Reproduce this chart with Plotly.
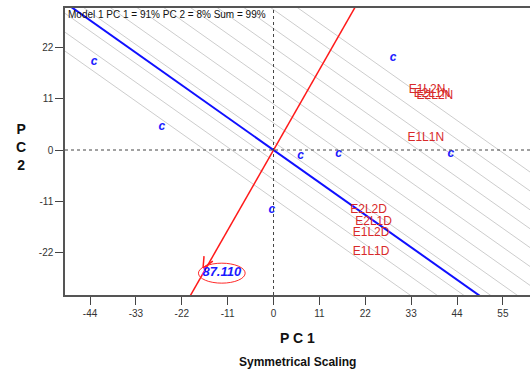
import numpy as np
import plotly.graph_objects as go

# ---- data ----
x_ticks = [-44, -33, -22, -11, 0, 11, 22, 33, 44, 55]
y_ticks = [-22, -11, 0, 11, 22]
x_range = [-50.0, 61.5]
y_range = [-31.08, 30.44]

# sample scores ("c")
c_x = [-43.0, -26.8, 28.7, 6.5, 15.6, 42.5, -0.4]
c_y = [18.8, 5.0, 19.8, -1.2, -0.9, -0.9, -12.8]

# variable labels
var_names = ["E1L2N", "E2L1N", "E2L2N", "E1L1N", "E2L2D", "E2L1D", "E1L2D", "E1L1D"]
var_x = [36.8, 38.0, 38.7, 36.5, 22.8, 24.0, 23.4, 23.4]
var_y = [12.9, 12.1, 11.6, 2.6, -12.9, -15.4, -17.8, -21.9]

# axes of the biplot (slopes through the origin)
blue_slope = -0.632
red_slope = 1.565
# parallel contour lines (intercepts)
contour_b0 = -10.4
contour_step = 4.05
contour_n = 12

# highlighted point
hl_label = "87.110"
hl_x, hl_y = -12.4, -26.4
hl_rx, hl_ry = 5.6, 2.14
arrow_tip = (-16.9, -25.3)

model_text = "Model 1 PC 1 = 91% PC 2 = 8% Sum = 99%"

# ---- figure ----
W, H = 530, 374
ml, mr, mt, mb = 65, 0, 8, 79
pw, ph = W - ml - mr, H - mt - mb
sx = pw / (x_range[1] - x_range[0])
sy = ph / (y_range[1] - y_range[0])

fig = go.Figure()
xs_full = np.array([x_range[0] - 20, x_range[1] + 20])

# grey contour lines
for k in range(contour_n):
    b = contour_b0 + k * contour_step
    fig.add_trace(go.Scatter(x=xs_full, y=b + blue_slope * xs_full, mode="lines",
                             line=dict(color="#cdcdcd", width=1), hoverinfo="skip",
                             showlegend=False))

# zero reference lines
fig.add_shape(type="line", x0=0, x1=0, y0=y_range[0], y1=y_range[1],
              line=dict(color="#444", width=1, dash="dot"), layer="above")
fig.add_shape(type="line", x0=x_range[0], x1=x_range[1], y0=0, y1=0,
              line=dict(color="#444", width=1, dash="dot"), layer="above")

# blue axis line
fig.add_trace(go.Scatter(x=xs_full, y=blue_slope * xs_full, mode="lines",
                         line=dict(color="#1010ff", width=2), showlegend=False))
# red axis line
ys_full = np.array([y_range[0] - 20, y_range[1] + 20])
fig.add_trace(go.Scatter(x=ys_full / red_slope, y=ys_full, mode="lines",
                         line=dict(color="#ff1a1a", width=1.5), showlegend=False))

# arrow head (open V pointing down-left along the red line)
tx, ty = arrow_tip
dpx = np.array([1.0 * sx, red_slope * sy * -1.0])
dpx = dpx / np.linalg.norm(dpx)
barbs_x, barbs_y = [], []
for ang in (np.radians(25), np.radians(-25)):
    c, s = np.cos(ang), np.sin(ang)
    vx = c * dpx[0] - s * dpx[1]
    vy = s * dpx[0] + c * dpx[1]
    L = 12
    barbs_x += [tx + L * vx / sx, tx, None]
    barbs_y += [ty - L * vy / sy, ty, None]
fig.add_trace(go.Scatter(x=barbs_x, y=barbs_y, mode="lines",
                         line=dict(color="#ff1a1a", width=1.5), showlegend=False))

# ellipse around highlighted point
fig.add_shape(type="circle", x0=hl_x - hl_rx, x1=hl_x + hl_rx,
              y0=hl_y - hl_ry, y1=hl_y + hl_ry,
              line=dict(color="#ff2a2a", width=1))

# sample labels
fig.add_trace(go.Scatter(x=c_x, y=c_y, mode="text", text=["c"] * len(c_x),
                         textfont=dict(family="Arial, Liberation Sans", size=12,
                                       color="#1a1aff", weight="bold", style="italic"),
                         showlegend=False))
# variable labels
fig.add_trace(go.Scatter(x=var_x, y=var_y, mode="text", text=var_names,
                         textfont=dict(family="Arial, Liberation Sans", size=12,
                                       color="#d82a2a"),
                         showlegend=False))
# highlighted label
fig.add_trace(go.Scatter(x=[hl_x], y=[hl_y], mode="text", text=[hl_label],
                         textfont=dict(family="Arial, Liberation Sans", size=13,
                                       color="#1a1aff", weight="bold", style="italic"),
                         showlegend=False))

axis_font = dict(family="Arial, Liberation Sans", size=10, color="#333")
fig.update_layout(
    width=W, height=H,
    margin=dict(l=ml, r=mr, t=mt, b=mb),
    paper_bgcolor="white", plot_bgcolor="white",
    xaxis=dict(range=x_range, tickvals=x_ticks, ticktext=[str(v) for v in x_ticks],
               ticks="outside", ticklen=8, tickwidth=1, tickcolor="#444",
               showline=True, linecolor="#555", linewidth=1.5, mirror=True,
               showgrid=False, zeroline=False, tickfont=axis_font),
    yaxis=dict(range=y_range, tickvals=y_ticks, ticktext=[str(v) for v in y_ticks],
               ticks="outside", ticklen=8, tickwidth=1, tickcolor="#444",
               showline=True, linecolor="#555", linewidth=1.5,
               showgrid=False, zeroline=False, tickfont=axis_font),
    showlegend=False,
)

fig.add_annotation(xref="paper", yref="paper", x=(66 - ml) / pw, y=1 - (14.5 - mt) / ph,
                   xanchor="left", yanchor="middle", showarrow=False, text=model_text,
                   font=dict(family="Arial, Liberation Sans", size=10, color="#111"))
fig.add_annotation(xref="paper", yref="paper", x=0.5, y=-(338 - mt - ph) / ph,
                   xanchor="center", yanchor="middle", showarrow=False, text="P C 1",
                   font=dict(family="Arial, Liberation Sans", size=14, color="#111",
                             weight="bold"))
fig.add_annotation(xref="paper", yref="paper", x=0.5, y=-(362 - mt - ph) / ph,
                   xanchor="center", yanchor="middle", showarrow=False,
                   text="Symmetrical Scaling",
                   font=dict(family="Arial, Liberation Sans", size=12, color="#111",
                             weight="bold"))
fig.add_annotation(xref="paper", yref="paper", x=(21 - ml) / pw, y=1 - (147 - mt) / ph,
                   xanchor="center", yanchor="middle", showarrow=False,
                   text="P<br>C<br>2",
                   font=dict(family="Arial, Liberation Sans", size=14, color="#111",
                             weight="bold"))

fig.write_html("out.html")
